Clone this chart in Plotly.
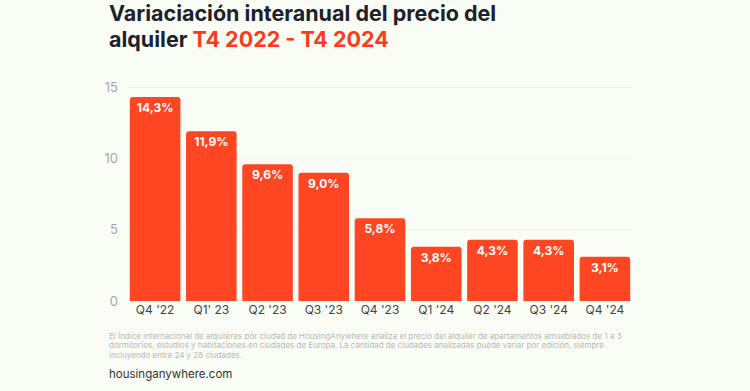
import plotly.graph_objects as go

categories = ["Q4 '22", "Q1' 23", "Q2 '23", "Q3 '23", "Q4 '23", "Q1 '24", "Q2 '24", "Q3 '24", "Q4 '24"]
values = [14.3, 11.9, 9.6, 9.0, 5.8, 3.8, 4.3, 4.3, 3.1]
labels = ["14,3%", "11,9%", "9,6%", "9,0%", "5,8%", "3,8%", "4,3%", "4,3%", "3,1%"]
y_ticks = [0, 5, 10, 15]
footnote_lines = [
    "El Índice internacional de alquileres por ciudad de HousingAnywhere analiza el precio del alquiler de apartamentos amueblados de 1 a 3",
    "dormitorios, estudios y habitaciones en ciudades de Europa. La cantidad de ciudades analizadas puede variar por edición, siempre",
    "incluyendo entre 24 y 28 ciudades.",
]

BG = "#f9fdf5"
RED = "#ff4623"

fig = go.Figure(go.Bar(
    x=categories, y=values, text=labels,
    textposition="inside", insidetextanchor="end",
    textfont=dict(family="Inter", size=12, color="white", weight="bold"),
    marker=dict(color=RED, line=dict(width=0), cornerradius=3),
    hoverinfo="skip",
))

fig.update_layout(
    width=750, height=391,
    paper_bgcolor=BG, plot_bgcolor=BG,
    margin=dict(l=127, r=117, t=85, b=90),
    bargap=0.1,
    showlegend=False,
    font=dict(family="Inter"),
    xaxis=dict(range=[-0.5, 8.5], showgrid=False, showline=False, zeroline=False,
               tickfont=dict(size=12, color="#444"), ticks="", ticklen=0),
    yaxis=dict(range=[0, 15.15], tickvals=y_ticks, showgrid=True, gridcolor="#eef0ea",
               gridwidth=1, zeroline=False, showline=False,
               tickfont=dict(size=13, color="#a8a8a8"), ticks="", ticklabelstandoff=8),
    uniformtext=dict(mode="show", minsize=8),
)

# title, two lines
fig.add_annotation(
    xref="paper", yref="paper", x=0, y=1, xshift=-20, yshift=72,
    xanchor="left", yanchor="middle", showarrow=False,
    text="<b>Variaciación interanual del precio del</b>",
    font=dict(family="Inter", size=21.5, color="#1c212b"),
)
fig.add_annotation(
    xref="paper", yref="paper", x=0, y=1, xshift=-20, yshift=46,
    xanchor="left", yanchor="middle", showarrow=False,
    text="<b>alquiler <span style='color:#ff3a1c'>T4 2022 - T4 2024</span></b>",
    font=dict(family="Inter", size=21.5, color="#1c212b"),
)

for i, line in enumerate(footnote_lines):
    fig.add_annotation(
        xref="paper", yref="paper", x=0, y=0, xshift=-20, yshift=-35 - 9.3 * i,
        xanchor="left", yanchor="middle", showarrow=False,
        text=line, font=dict(family="Inter", size=8, color="#b8b8b8"),
    )

fig.add_annotation(
    xref="paper", yref="paper", x=0, y=0, xshift=-20, yshift=-73,
    xanchor="left", yanchor="middle", showarrow=False,
    text="housinganywhere.com",
    font=dict(family="Inter", size=11.5, color="#333"),
)

fig.write_html("out.html", config={"displayModeBar": False},
               post_script="document.body.style.margin='0';")
